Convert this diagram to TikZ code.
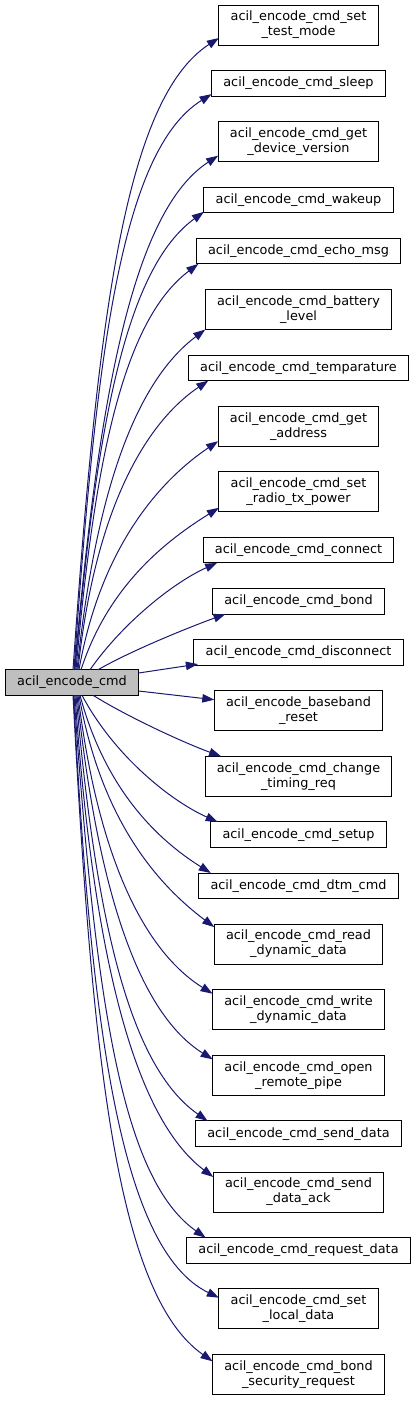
\documentclass[tikz,border=0pt]{standalone}
\usepackage{fontspec}
\setmainfont{DejaVu Sans}
\usepackage{tikz}
\usetikzlibrary{arrows.meta,positioning}
\definecolor{callblue}{HTML}{191970}
\definecolor{rootgray}{HTML}{BFBFBF}

\begin{document}
\begin{tikzpicture}[x=1pt,y=1pt,node distance=25.6pt,
  call/.style={draw=callblue,line width=1pt,-{Triangle[length=12pt,width=8.5pt]}},
  func node/.style={rectangle,draw=black,line width=1pt,fill=white,align=center,
    inner xsep=11.8pt,inner ysep=0pt,outer sep=0pt,minimum height=25.5pt,
    font=\fontsize{12.84}{15}\selectfont},
  two line/.style={func node,minimum height=40pt},
  root node/.style={func node,fill=rootgray}]
  \useasboundingbox (0,0) rectangle (416,-1401);

  \node[root node] (0) at (72,-682.5) {acil\_encode\_cmd};

  \node[two line] (1) at (298.5,-25) {acil\_encode\_cmd\_set\\\_test\_mode};
  \node[func node] (2) [below=of 1] {acil\_encode\_cmd\_sleep};
  \node[two line] (3) [below=of 2] {acil\_encode\_cmd\_get\\\_device\_version};
  \node[func node] (4) [below=of 3] {acil\_encode\_cmd\_wakeup};
  \node[func node] (5) [below=of 4] {acil\_encode\_cmd\_echo\_msg};
  \node[two line] (6) [below=of 5] {acil\_encode\_cmd\_battery\\\_level};
  \node[func node] (7) [below=of 6] {acil\_encode\_cmd\_temparature};
  \node[two line] (8) [below=of 7] {acil\_encode\_cmd\_get\\\_address};
  \node[two line] (9) [below=of 8] {acil\_encode\_cmd\_set\\\_radio\_tx\_power};
  \node[func node] (10) [below=of 9] {acil\_encode\_cmd\_connect};
  \node[func node] (11) [below=of 10] {acil\_encode\_cmd\_bond};
  \node[func node] (12) [below=of 11] {acil\_encode\_cmd\_disconnect};
  \node[two line] (13) [below=of 12] {acil\_encode\_baseband\\\_reset};
  \node[two line] (14) [below=of 13] {acil\_encode\_cmd\_change\\\_timing\_req};
  \node[func node] (15) [below=of 14] {acil\_encode\_cmd\_setup};
  \node[func node] (16) [below=of 15] {acil\_encode\_cmd\_dtm\_cmd};
  \node[two line] (17) [below=of 16] {acil\_encode\_cmd\_read\\\_dynamic\_data};
  \node[two line] (18) [below=of 17] {acil\_encode\_cmd\_write\\\_dynamic\_data};
  \node[two line] (19) [below=of 18] {acil\_encode\_cmd\_open\\\_remote\_pipe};
  \node[func node] (20) [below=of 19] {acil\_encode\_cmd\_send\_data};
  \node[two line] (21) [below=of 20] {acil\_encode\_cmd\_send\\\_data\_ack};
  \node[func node] (22) [below=of 21] {acil\_encode\_cmd\_request\_data};
  \node[two line] (23) [below=of 22] {acil\_encode\_cmd\_set\\\_local\_data};
  \node[two line] (24) [below=of 23] {acil\_encode\_cmd\_bond\\\_security\_request};

  % calls going up
  \path[every edge/.append style=call]
    ([xshift=1pt]0.north) edge[out=86,in=213,out distance=348pt,in distance=113pt] ([yshift=7pt]1.south west)
    ([xshift=2pt]0.north) edge[out=86,in=212,out distance=316pt,in distance=107pt] ([yshift=2pt]2.south west)
    ([xshift=2.5pt]0.north) edge[out=85,in=213,out distance=282pt,in distance=100pt] ([yshift=6pt]3.south west)
    ([xshift=3pt]0.north) edge[out=85,in=216,out distance=252pt,in distance=95pt] ([yshift=1pt]4.south west)
    ([xshift=4pt]0.north) edge[out=85,in=217,out distance=224pt,in distance=90pt] ([xshift=2pt]5.south west)
    ([xshift=5pt]0.north) edge[out=84,in=217,out distance=187pt,in distance=84pt] (6.south west)
    ([xshift=6pt]0.north) edge[out=84,in=214,out distance=158pt,in distance=78pt] ([xshift=20pt]7.south west)
    ([xshift=7pt]0.north) edge[out=80,in=214,out distance=125pt,in distance=70pt] ([yshift=5pt]8.south west)
    ([xshift=9pt]0.north) edge[out=72,in=212,out distance=90pt,in distance=60pt] ([yshift=4pt]9.south west)
    ([xshift=18pt]0.north) edge[out=55,in=204,out distance=60pt,in distance=45pt] ([xshift=14pt]10.south west)
    ([xshift=26pt]0.north) edge[out=30,in=200,out distance=40pt,in distance=35pt] ([xshift=13pt]11.south west);

  % calls to the side
  \path[every edge/.append style=call]
    ([yshift=9.5pt]0.east) edge ([xshift=4pt,yshift=1pt]12.south west)
    ([yshift=-8.5pt]0.east) edge ([yshift=-9pt]13.north west);

  % calls going down
  \path[every edge/.append style=call]
    ([xshift=21pt]0.south) edge[out=-32,in=160,out distance=40pt,in distance=40pt] ([xshift=16pt]14.north west)
    ([xshift=10pt]0.south) edge[out=-62,in=156,out distance=70pt,in distance=50pt] ([xshift=7pt]15.north west)
    ([xshift=8pt]0.south) edge[out=-75,in=148,out distance=100pt,in distance=60pt] ([xshift=12pt]16.north west)
    ([xshift=7pt]0.south) edge[out=-80,in=143,out distance=128pt,in distance=70pt] ([yshift=-3pt]17.north west)
    ([xshift=6pt]0.south) edge[out=-83,in=148,out distance=165pt,in distance=80pt] ([yshift=-4pt]18.north west)
    ([xshift=5pt]0.south) edge[out=-84,in=148,out distance=200pt,in distance=86pt] ([yshift=-4pt]19.north west)
    ([xshift=4pt]0.south) edge[out=-85,in=145,out distance=235pt,in distance=93pt] ([xshift=12pt]20.north west)
    ([xshift=3pt]0.south) edge[out=-86,in=143,out distance=265pt,in distance=98pt] ([yshift=-5pt]21.north west)
    ([xshift=2pt]0.south) edge[out=-86,in=145,out distance=300pt,in distance=104pt] ([xshift=19pt]22.north west)
    ([xshift=1.5pt]0.south) edge[out=-87,in=154,out distance=332pt,in distance=110pt] ([yshift=-9pt]23.north west)
    ([xshift=1pt]0.south) edge[out=-87,in=145,out distance=367pt,in distance=117pt] ([yshift=-7pt]24.north west);
\end{tikzpicture}
\end{document}
